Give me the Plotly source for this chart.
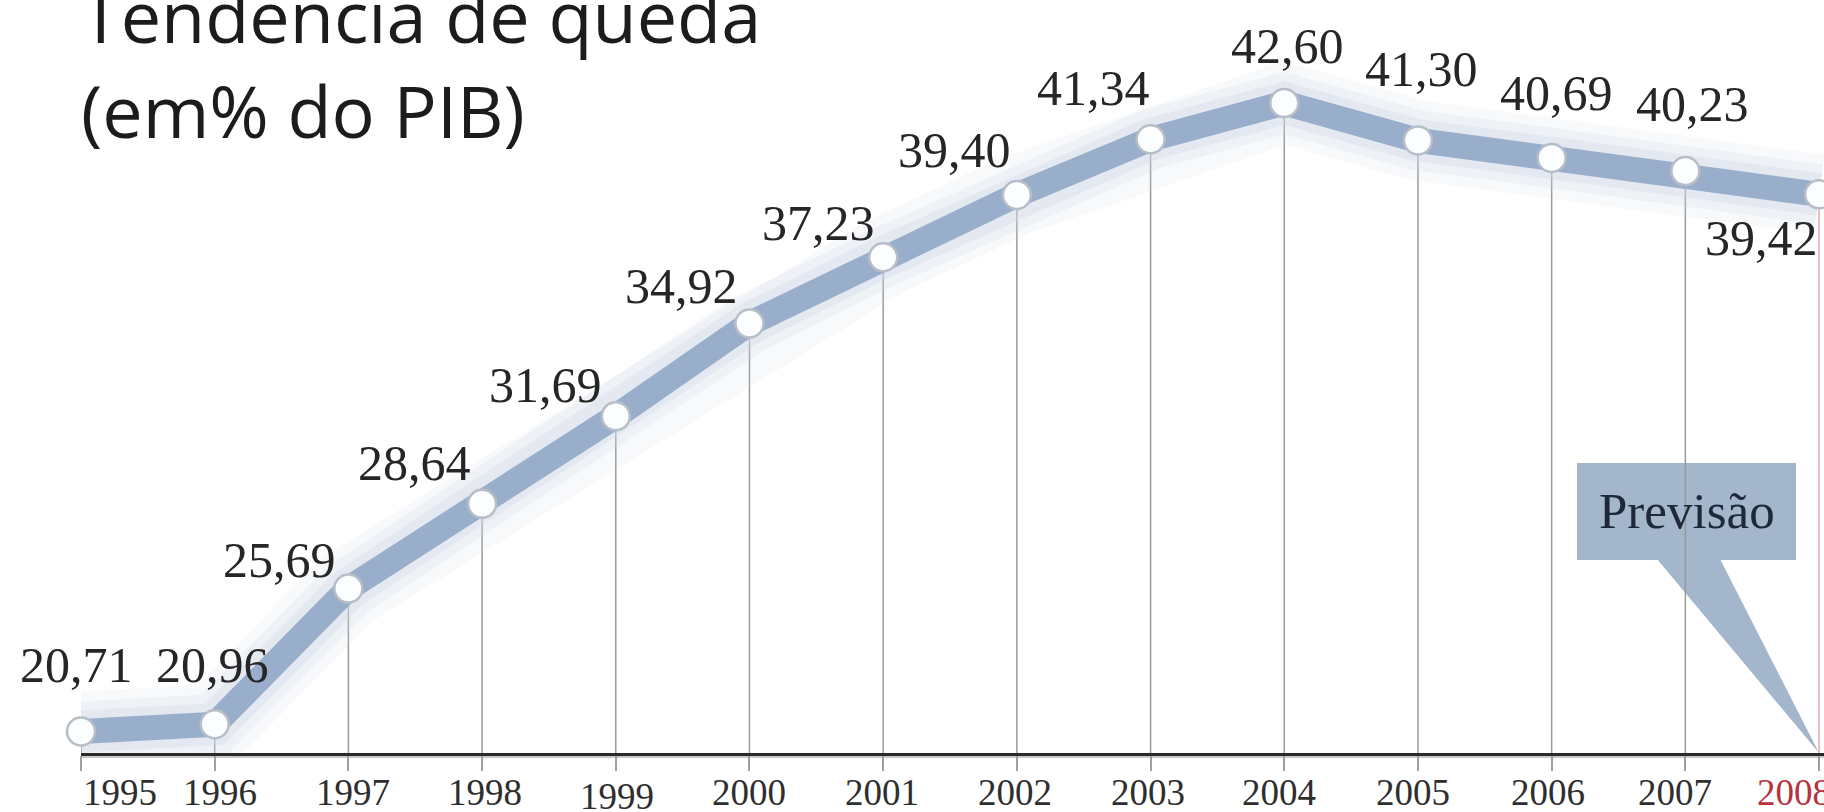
import plotly.graph_objects as go

# ---------------- data ----------------
years = [1995, 1996, 1997, 1998, 1999, 2000, 2001, 2002, 2003, 2004, 2005, 2006, 2007, 2008]
values = [20.71, 20.96, 25.69, 28.64, 31.69, 34.92, 37.23, 39.40, 41.34, 42.60, 41.30, 40.69, 40.23, 39.42]
value_labels = [f"{v:.2f}".replace(".", ",") for v in values]
year_labels = [str(y) for y in years]
forecast_year = 2008
title_line1 = "Tendência de queda"
title_line2 = "(em% do PIB)"
forecast_text = "Previsão"

# ---------------- layout constants (px) ----------------
W, H = 1824, 812
M_L, M_R, M_T, M_B = 81, 0, 0, 59
X_RANGE = [1995.0, 2008.037]
Y_RANGE = [19.96, 46.19]
PLOT_W = W - M_L - M_R
PLOT_H = H - M_T - M_B

# value-label offsets from each point (px, screen: +dx right, +dy down)
label_dx = [-5, -2, -69, -68, -70, -68, -65, -62, -57, 3, 4, 5, 7, -58]
label_dy = [-66, -59, -29, -41, -31, -38, -34, -45, -51, -57, -71, -65, -67, 44]
# year-label placement
year_anchor = ["left"] + ["center"] * 12 + ["right"]
year_dx = [0, 5, 5, 3, 1, 0, -1, -2, -3, -5, -5, -4, -10, 14]
year_dy = [39, 39, 39, 39, 43, 39, 39, 39, 39, 39, 39, 39, 39, 39]

SERIF = "Liberation Serif"
SANS = "Open Sans"
LINE_BLUE = "#98aecb"
BOX_BLUE = "#a3b6cc"
RED = "#b8323c"


def px_x(p):
    return X_RANGE[0] + (p - M_L) / PLOT_W * (X_RANGE[1] - X_RANGE[0])


def px_y(p):
    return Y_RANGE[1] - (p - M_T) / PLOT_H * (Y_RANGE[1] - Y_RANGE[0])


def paper_x(p):
    return (p - M_L) / PLOT_W


def paper_y(p):
    return (M_T + PLOT_H - p) / PLOT_H


fig = go.Figure()

# drop lines from every point to the axis
dx_list, dy_list = [], []
fx_list, fy_list = [], []
for yr, v in zip(years, values):
    if yr == forecast_year:
        fx_list += [yr, yr, None]
        fy_list += [v, Y_RANGE[0], None]
    else:
        dx_list += [yr, yr, None]
        dy_list += [v, Y_RANGE[0], None]
fig.add_trace(go.Scatter(x=dx_list, y=dy_list, mode="lines",
                         line=dict(color="#9a9a9a", width=1.5), hoverinfo="skip"))
fig.add_trace(go.Scatter(x=fx_list, y=fy_list, mode="lines",
                         line=dict(color="#e3a7a7", width=1.5), hoverinfo="skip"))

# soft glow around the main line
for w, c in [(80, "rgba(205,214,226,0.14)"), (60, "rgba(205,214,226,0.22)"), (42, "rgba(210,219,231,0.35)")]:
    fig.add_trace(go.Scatter(x=years, y=values, mode="lines",
                             line=dict(color=c, width=w), hoverinfo="skip"))

# main thick line
fig.add_trace(go.Scatter(x=years, y=values, mode="lines",
                         line=dict(color=LINE_BLUE, width=25), hoverinfo="skip"))

# markers
fig.add_trace(go.Scatter(x=years, y=values, mode="markers", cliponaxis=False,
                         marker=dict(size=28, color="#fbfdff",
                                     line=dict(color="#b7bec8", width=2.5)),
                         hoverinfo="skip"))

annotations = []
# value labels
for yr, v, t, ddx, ddy in zip(years, values, value_labels, label_dx, label_dy):
    annotations.append(dict(x=yr, y=v, xref="x", yref="y", text=t, showarrow=False,
                            xanchor="center", yanchor="middle",
                            xshift=ddx, yshift=-ddy,
                            font=dict(family=SERIF, size=50, color="#262626")))
# year labels
for yr, t, anc, ddx, ddy in zip(years, year_labels, year_anchor, year_dx, year_dy):
    annotations.append(dict(x=yr, y=Y_RANGE[0], xref="x", yref="y", text=t, showarrow=False,
                            xanchor=anc, yanchor="middle", xshift=ddx, yshift=-ddy,
                            font=dict(family=SERIF, size=37,
                                      color=RED if yr == forecast_year else "#2e2e2e")))
# title
annotations.append(dict(x=paper_x(79), y=paper_y(15), xref="paper", yref="paper",
                        text=title_line1, showarrow=False, xanchor="left", yanchor="middle",
                        font=dict(family=SANS, size=72, color="#1c1c1c")))
annotations.append(dict(x=paper_x(79), y=paper_y(110), xref="paper", yref="paper",
                        text=title_line2, showarrow=False, xanchor="left", yanchor="middle",
                        font=dict(family=SANS, size=72, color="#1c1c1c")))
# forecast callout text
annotations.append(dict(x=px_x(1687), y=px_y(511), xref="x", yref="y",
                        text=forecast_text, showarrow=False, xanchor="center", yanchor="middle",
                        font=dict(family=SERIF, size=51, color="#1e2838")))

shapes = []
# axis shadow
shapes.append(dict(type="line", xref="paper", yref="paper", x0=0, x1=1,
                   y0=paper_y(757), y1=paper_y(757), line=dict(color="#c8c8c8", width=2),
                   layer="below"))
# callout box
shapes.append(dict(type="rect", xref="x", yref="y", x0=px_x(1577), x1=px_x(1796),
                   y0=px_y(463), y1=px_y(560), fillcolor=BOX_BLUE, line=dict(width=0),
                   layer="below"))
# callout pointer to the forecast year on the axis
shapes.append(dict(type="path", xref="x", yref="y",
                   path=(f"M {px_x(1657)} {px_y(559)} L {px_x(1720)} {px_y(559)} "
                         f"L {forecast_year} {Y_RANGE[0]} Z"),
                   fillcolor=BOX_BLUE, line=dict(width=0), layer="below"))

fig.update_layout(
    width=W, height=H,
    margin=dict(l=M_L, r=M_R, t=M_T, b=M_B, pad=0),
    paper_bgcolor="white", plot_bgcolor="white",
    showlegend=False,
    annotations=annotations,
    shapes=shapes,
    xaxis=dict(range=X_RANGE, showgrid=False, zeroline=False, showline=True,
               linecolor="#2a2a2a", linewidth=3, ticks="outside", tickvals=years,
               ticklen=15, tickcolor="#a0a0a0", tickwidth=1.5, showticklabels=False,
               fixedrange=True),
    yaxis=dict(range=Y_RANGE, visible=False, fixedrange=True),
    hovermode=False,
)

fig.write_html("out.html")
